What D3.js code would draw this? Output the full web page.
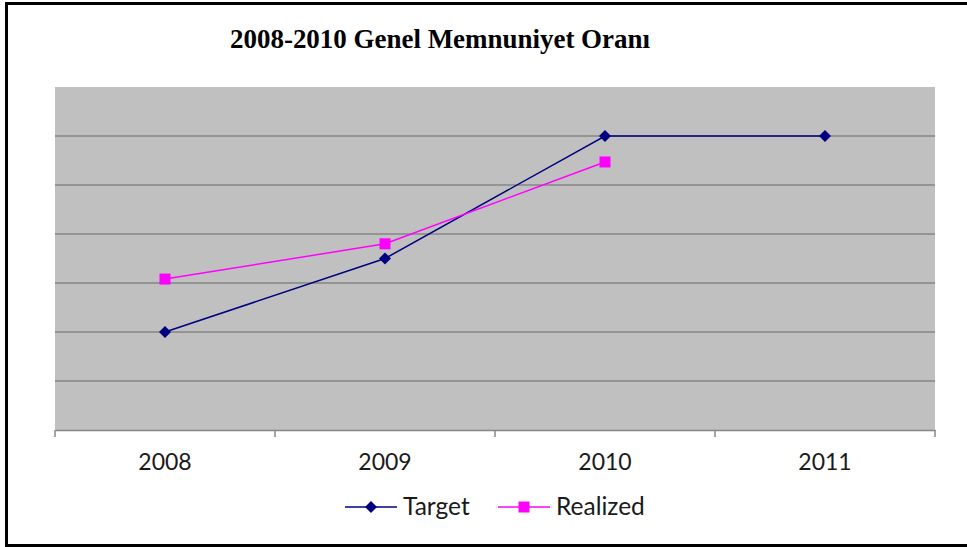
<!DOCTYPE html>
<html>
<head>
<meta charset="utf-8">
<script src="https://cdn.jsdelivr.net/npm/d3@7"></script>
<style>
  body { margin: 0; background: #fff; overflow: hidden; }
</style>
</head>
<body>
<div id="chart"></div>
<script>
// data (y axis has no labels, units are gridline steps)
const years = ["2008", "2009", "2010", "2011"];
const target = [2, 3.5, 6, 6];
const realized = [3.08, 3.8, 5.47, null];
const yTicks = [1, 2, 3, 4, 5, 6, 7];

const W = 967, H = 547;
const margin = { top: 87, right: 32, bottom: 117, left: 55 };
const width = W - margin.left - margin.right;
const height = H - margin.top - margin.bottom;

const svg = d3.select("#chart").append("svg")
    .attr("width", W)
    .attr("height", H);

// outer frame (right edge is cut off in the original)
svg.append("rect")
    .attr("x", 6.5).attr("y", 3.5)
    .attr("width", W + 10).attr("height", 542)
    .attr("fill", "#fff")
    .attr("stroke", "#000")
    .attr("stroke-width", 3);

svg.append("text")
    .attr("x", 440).attr("y", 48)
    .attr("text-anchor", "middle")
    .attr("font-family", "Liberation Serif, Times New Roman, serif")
    .attr("font-weight", "bold")
    .attr("font-size", 28)
    .attr("textLength", 420)
    .attr("lengthAdjust", "spacingAndGlyphs")
    .text("2008-2010 Genel Memnuniyet Oranı");

const g = svg.append("g")
    .attr("transform", "translate(" + margin.left + "," + margin.top + ")");

const x = d3.scaleBand().domain(years).range([0, width]);
const y = d3.scaleLinear().domain([0, 7]).range([height, 0]);

g.append("rect")
    .attr("width", width).attr("height", height)
    .attr("fill", "#c0c0c0");

// gridlines
g.selectAll(".grid")
    .data(yTicks.slice(0, -1))
    .enter().append("line")
    .attr("x1", 0).attr("x2", width)
    .attr("y1", d => y(d)).attr("y2", d => y(d))
    .attr("stroke", "#868686")
    .attr("stroke-width", 1.5);

// x axis
const xAxis = g.append("g")
    .attr("transform", "translate(0," + height + ")")
    .call(d3.axisBottom(x).tickSize(0).tickPadding(24));
xAxis.select(".domain").attr("stroke", "#868686").attr("stroke-width", 1.5);
xAxis.selectAll("text")
    .attr("font-family", "Lato, Carlito, Calibri, sans-serif")
    .attr("font-size", 23)
    .attr("fill", "#1a1a1a");

// category separators
g.selectAll(".sep")
    .data(years.concat(["end"]))
    .enter().append("line")
    .attr("x1", (d, i) => i * x.step()).attr("x2", (d, i) => i * x.step())
    .attr("y1", height).attr("y2", height + 7)
    .attr("stroke", "#868686")
    .attr("stroke-width", 1.5);

const cx = d => x(d) + x.bandwidth() / 2;

function drawSeries(vals, color, shape) {
    const pts = years.map((yr, i) => ({ yr: yr, v: vals[i] })).filter(p => p.v != null);
    g.append("path")
        .datum(pts)
        .attr("fill", "none")
        .attr("stroke", color)
        .attr("stroke-width", 1.5)
        .attr("d", d3.line().x(p => cx(p.yr)).y(p => y(p.v)));
    g.selectAll(null)
        .data(pts)
        .enter().append("path")
        .attr("transform", p => "translate(" + cx(p.yr) + "," + y(p.v) + ")")
        .attr("d", shape)
        .attr("fill", color);
}

const diamond = "M0,-6L6,0L0,6L-6,0Z";
const square = "M-5.5,-5.5H5.5V5.5H-5.5Z";

drawSeries(target, "#000080", diamond);
drawSeries(realized, "#ff00ff", square);

// legend
const legend = svg.append("g").attr("transform", "translate(0,507)");
const items = [
    { name: "Target", color: "#000080", shape: diamond, x: 345 },
    { name: "Realized", color: "#ff00ff", shape: square, x: 498 }
];
items.forEach(it => {
    legend.append("line")
        .attr("x1", it.x).attr("x2", it.x + 52)
        .attr("stroke", it.color).attr("stroke-width", 1.5);
    legend.append("path")
        .attr("transform", "translate(" + (it.x + 26) + ",0)")
        .attr("d", it.shape)
        .attr("fill", it.color);
    legend.append("text")
        .attr("x", it.x + 58).attr("y", 8)
        .attr("font-family", "Lato, Carlito, Calibri, sans-serif")
        .attr("font-size", 24.5)
        .attr("fill", "#1a1a1a")
        .text(it.name);
});
</script>
</body>
</html>
